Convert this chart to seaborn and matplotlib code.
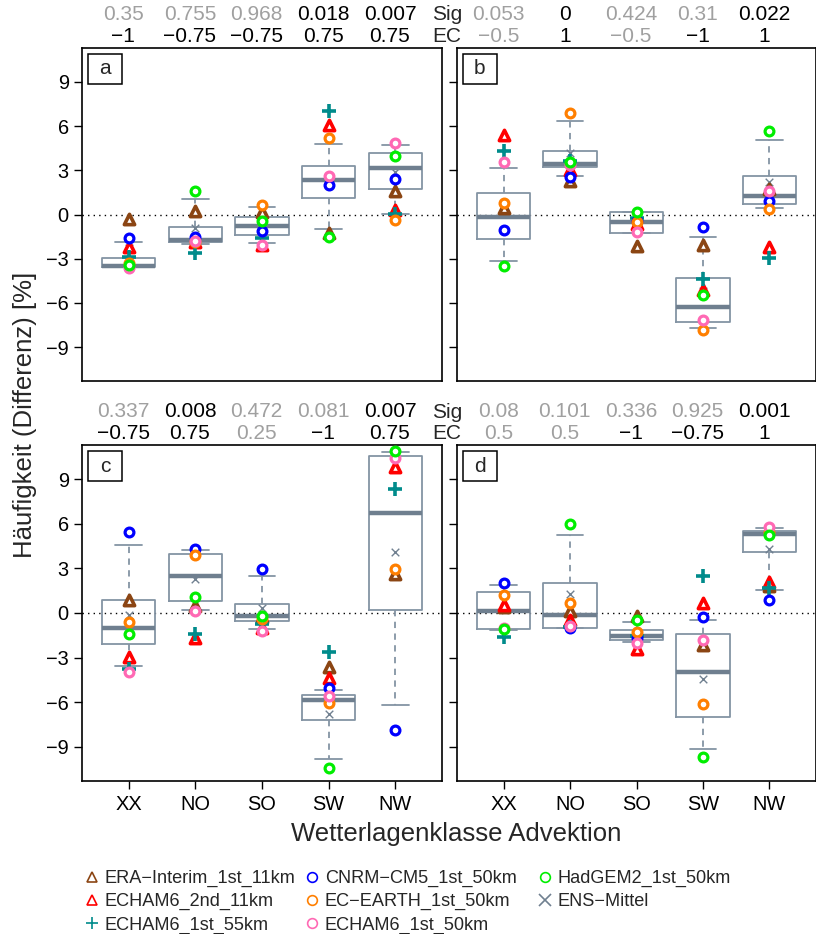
import numpy as np
import pandas as pd
import matplotlib
matplotlib.use("Agg")
import matplotlib.pyplot as plt
from matplotlib.lines import Line2D
from matplotlib.patches import Rectangle
import seaborn as sns

sns.set_style("white")
plt.rcParams['font.family'] = ['Liberation Sans', 'DejaVu Sans']

# ---------------- data ----------------
categories = ["XX", "NO", "SO", "SW", "NW"]
models = ["ERA\u2212Interim_1st_11km", "ECHAM6_2nd_11km", "ECHAM6_1st_55km",
          "CNRM\u2212CM5_1st_50km", "EC\u2212EARTH_1st_50km", "ECHAM6_1st_50km",
          "HadGEM2_1st_50km", "ENS\u2212Mittel"]

# panel a
a_era = [-0.32, 0.25, 0.2, -1.27, 1.57]
a_e2nd = [-2.2, -1.84, -2.1, 6.1, 0.3]
a_e55 = [-2.86, -2.6, -1.57, 7.05, 0.05]
a_cnrm = [-1.6, -1.55, -1.11, 2.0, 2.41]
a_ecearth = [-3.3, -1.9, 0.66, 5.16, -0.36]
a_e50 = [-3.6, -1.77, -2.07, 2.64, 4.86]
a_had = [-3.4, 1.57, -0.43, -1.5, 3.95]
a_ens = [-2.3, -0.93, -0.45, 2.5, 2.86]
a_box_lo = [-3.58, -2.0, -1.91, -1.0, 0.05]
a_box_q1 = [-3.55, -1.84, -1.39, 1.14, 1.73]
a_box_med = [-3.5, -1.73, -0.77, 2.36, 3.18]
a_box_q3 = [-2.98, -0.82, -0.14, 3.27, 4.18]
a_box_hi = [-1.9, 1.07, 0.48, 4.77, 4.7]
a_sig = ["0.35", "0.755", "0.968", "0.018", "0.007"]
a_ec = [-1, -0.75, -0.75, 0.75, 0.75]

# panel b
b_era = [0.43, 2.3, -2.14, -2.07, 1.73]
b_e2nd = [5.39, 3.0, -0.64, -5.14, -2.18]
b_e55 = [4.34, 3.61, -0.25, -4.41, -2.98]
b_cnrm = [-1.05, 2.52, -0.45, -0.82, 0.89]
b_ecearth = [0.77, 6.89, -0.5, -7.86, 0.36]
b_e50 = [3.59, 3.39, -1.2, -7.14, 1.59]
b_had = [-3.48, 3.55, 0.16, -5.48, 5.64]
b_ens = [0.35, 4.14, -0.4, -5.2, 2.18]
b_box_lo = [-3.14, 2.64, -1.25, -7.73, 0.41]
b_box_q1 = [-1.68, 3.2, -1.23, -7.32, 0.73]
b_box_med = [-0.16, 3.43, -0.52, -6.3, 1.23]
b_box_q3 = [1.45, 4.3, 0.16, -4.32, 2.59]
b_box_hi = [3.18, 6.36, 0.18, -1.55, 5.05]
b_sig = ["0.053", "0", "0.424", "0.31", "0.022"]
b_ec = [-0.5, 1, -0.5, -1, 1]

# panel c
c_era = [0.9, 0.5, -0.3, -3.61, 2.64]
c_e2nd = [-2.96, -1.65, -1.04, -4.36, 9.82]
c_e55 = [-3.75, -1.38, -0.77, -2.6, 8.33]
c_cnrm = [5.46, 4.29, 2.96, -5.06, -7.86]
c_ecearth = [-0.63, 3.88, -0.4, -6.07, 2.93]
c_e50 = [-3.97, 0.11, -1.22, -5.6, 10.45]
c_had = [-1.44, 1.06, -0.18, -10.45, 10.88]
c_ens = [-0.11, 2.3, 0.34, -6.79, 4.11]
c_box_lo = [-3.54, 0.23, -1.08, -9.82, -6.21]
c_box_q1 = [-2.08, 0.79, -0.54, -7.18, 0.23]
c_box_med = [-1.02, 2.46, -0.23, -5.87, 6.7]
c_box_q3 = [0.9, 4.0, 0.59, -5.51, 10.54]
c_box_hi = [4.58, 4.22, 2.48, -5.19, 10.84]
c_sig = ["0.337", "0.008", "0.472", "0.081", "0.007"]
c_ec = [-0.75, 0.75, 0.25, -1, 0.75]

# panel d
d_era = [0.4, 0.11, -0.18, -2.17, 1.8]
d_e2nd = [0.54, -0.45, -2.44, 0.68, 2.08]
d_e55 = [-1.6, -0.93, -1.58, 2.46, 1.67]
d_cnrm = [2.01, -1.02, -1.7, -0.25, 0.9]
d_ecearth = [1.24, 0.7, -1.26, -6.09, 5.42]
d_e50 = [-1.02, -0.9, -1.99, -1.83, 5.76]
d_had = [-1.08, 6.0, -0.47, -9.71, 5.24]
d_ens = [0.35, 1.26, -1.45, -4.47, 4.33]
d_box_lo = [-1.13, -0.99, -1.94, -9.16, 1.56]
d_box_q1 = [-1.08, -0.99, -1.81, -7.0, 4.11]
d_box_med = [0.14, -0.14, -1.53, -4.0, 5.33]
d_box_q3 = [1.44, 2.03, -1.13, -1.44, 5.51]
d_box_hi = [1.9, 5.24, -0.63, -0.47, 5.69]
d_sig = ["0.08", "0.101", "0.336", "0.925", "0.001"]
d_ec = [0.5, 0.5, -1, -0.75, 1]

panels = {
    "a": dict(pts=[a_era, a_e2nd, a_e55, a_cnrm, a_ecearth, a_e50, a_had, a_ens],
              box=[a_box_lo, a_box_q1, a_box_med, a_box_q3, a_box_hi], sig=a_sig, ec=a_ec),
    "b": dict(pts=[b_era, b_e2nd, b_e55, b_cnrm, b_ecearth, b_e50, b_had, b_ens],
              box=[b_box_lo, b_box_q1, b_box_med, b_box_q3, b_box_hi], sig=b_sig, ec=b_ec),
    "c": dict(pts=[c_era, c_e2nd, c_e55, c_cnrm, c_ecearth, c_e50, c_had, c_ens],
              box=[c_box_lo, c_box_q1, c_box_med, c_box_q3, c_box_hi], sig=c_sig, ec=c_ec),
    "d": dict(pts=[d_era, d_e2nd, d_e55, d_cnrm, d_ecearth, d_e50, d_had, d_ens],
              box=[d_box_lo, d_box_q1, d_box_med, d_box_q3, d_box_hi], sig=d_sig, ec=d_ec),
}

# ---------------- styles ----------------
model_colors = ["#8B4513", "#FF0000", "#008B8B", "#0000FF", "#FF7F00", "#FF69B4", "#00EE00", "#708090"]
model_markers = ["^", "^", "+", "o", "o", "o", "o", "x"]
box_color = "#8494A4"
med_color = "#6F7F8F"
gray_txt = "#A0A0A0"

W, H = 816, 934
fig = plt.figure(figsize=(W / 100, H / 100), dpi=100)

def px_axes(l, t, r, b):
    return fig.add_axes([l / W, 1 - b / H, (r - l) / W, (b - t) / H])

axes = {
    "a": px_axes(82, 48, 442, 381),
    "b": px_axes(457, 48, 816, 381),
    "c": px_axes(82, 445, 442, 781),
    "d": px_axes(457, 445, 816, 781),
}

pos = np.arange(len(categories))

def fmt_ec(v):
    s = ("%g" % v)
    return s.replace("-", "\u2212")

for key, ax in axes.items():
    p = panels[key]
    # boxes from five-number summaries
    recs = []
    for j, c in enumerate(categories):
        for arr in p["box"]:
            recs.append((c, arr[j]))
    df = pd.DataFrame(recs, columns=["cat", "val"])
    sns.boxplot(data=df, x="cat", y="val", order=categories, whis=(0, 100),
                width=0.8, fill=False, color=box_color, linecolor=box_color, linewidth=1.3,
                showfliers=False, ax=ax,
                boxprops=dict(color=box_color),
                medianprops=dict(color=med_color, linewidth=3.2),
                whiskerprops=dict(linestyle=(0, (3.5, 3)), color=box_color),
                capprops=dict(color=box_color))
    ax.axhline(0, color="black", linestyle=(0, (1, 3)), linewidth=1.0, zorder=1)

    for m, vals in enumerate(p["pts"]):
        mk = model_markers[m]
        col = model_colors[m]
        if mk in ("o",):
            sns.scatterplot(x=pos, y=vals, marker="o", s=40, color="white",
                            edgecolor=col, linewidth=2.3, ax=ax, zorder=4, legend=False)
        elif mk == "^":
            sns.scatterplot(x=pos, y=vals, marker="^", s=55, color="white",
                            edgecolor=col, linewidth=2.6, ax=ax, zorder=4, legend=False)
        elif mk == "+":
            sns.scatterplot(x=pos, y=vals, marker="+", s=110, color=col,
                            edgecolor=None, linewidth=2.6, ax=ax, zorder=4, legend=False)
        else:
            sns.scatterplot(x=pos, y=vals, marker="x", s=30, color=col,
                            edgecolor=None, linewidth=1.0, ax=ax, zorder=3, legend=False)

    ax.set_xlim(-0.7, 4.7)
    ax.set_ylim(-11.3, 11.3)
    ax.set_xlabel("")
    ax.set_ylabel("")
    ax.set_yticks([-9, -6, -3, 0, 3, 6, 9])
    ax.set_yticklabels(["\u22129", "\u22126", "\u22123", "0", "3", "6", "9"])
    for sp in ax.spines.values():
        sp.set_visible(True)
        sp.set_color("black")
        sp.set_linewidth(1.2)
    ax.tick_params(axis="both", direction="out", length=6, width=1.0,
                   labelsize=14.4, colors="black", left=True, bottom=True)
    if key in ("b", "d"):
        ax.tick_params(axis="y", labelleft=False)
    if key in ("a", "b"):
        ax.tick_params(axis="x", bottom=False, labelbottom=False)
    else:
        ax.set_xticks(pos)
        ax.set_xticklabels(categories)
        ax.tick_params(axis="x", pad=4)

    # panel letter box
    ax.add_patch(Rectangle((6 / 360, 1 - 36 / 333), 34 / 360, 30 / 333,
                           transform=ax.transAxes, fill=False, edgecolor="black",
                           linewidth=1.1, zorder=6))
    ax.text(23 / 360, 1 - 21 / 333, key, transform=ax.transAxes, ha="center",
            va="center", fontsize=15, zorder=7)

    # Sig / EC annotations
    tr = ax.get_xaxis_transform()
    for j in range(len(categories)):
        s = p["sig"][j]
        scol = "black" if float(s) < 0.05 else gray_txt
        ax.annotate(s, xy=(pos[j] - 0.08, 1), xycoords=tr, xytext=(0, 24),
                    textcoords="offset points", ha="center", va="center",
                    fontsize=15, color=scol, annotation_clip=False)
        e = p["ec"][j]
        ecol = "black" if abs(e) >= 0.75 else gray_txt
        ax.annotate(fmt_ec(e), xy=(pos[j] - 0.08, 1), xycoords=tr, xytext=(0, 8),
                    textcoords="offset points", ha="center", va="center",
                    fontsize=15, color=ecol, annotation_clip=False)

for top in (48, 445):
    fig.text(447 / W, 1 - (top - 33) / H, "Sig", ha="center", va="center", fontsize=15)
    fig.text(447 / W, 1 - (top - 11) / H, "EC", ha="center", va="center", fontsize=15)

fig.text(25 / W, 1 - 415 / H, "H\u00e4ufigkeit (Differenz) [%]", rotation=90,
         ha="center", va="center", fontsize=18.5)
fig.text(456 / W, 1 - 834 / H, "Wetterlagenklasse Advektion", ha="center",
         va="center", fontsize=18.5)

# legend in three columns
handles = []
for m in range(len(models)):
    mk = model_markers[m]
    col = model_colors[m]
    if mk in ("o", "^"):
        h = Line2D([], [], linestyle="none", marker=mk, markersize=7,
                   markerfacecolor="none", markeredgecolor=col, markeredgewidth=1.2)
    else:
        h = Line2D([], [], linestyle="none", marker=mk, markersize=8,
                   color=col, markeredgewidth=1.2)
    handles.append(h)

cols = [[0, 1, 2], [3, 4, 5], [6, 7]]
col_x = [84, 304, 537]
for ci, idx in enumerate(cols):
    fig.legend([handles[i] for i in idx], [models[i] for i in idx],
               loc="upper left", bbox_to_anchor=(col_x[ci] / W, 1 - 870 / H),
               frameon=False, fontsize=13.1, handlelength=0.85, handletextpad=0.3,
               borderpad=0, borderaxespad=0, labelspacing=0.33)

fig.savefig("out.png", dpi=100)
